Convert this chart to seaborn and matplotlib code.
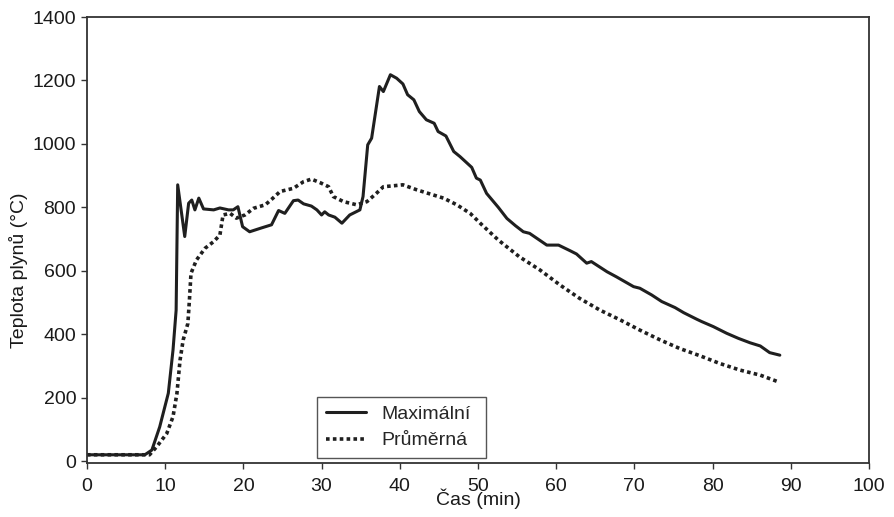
import matplotlib
matplotlib.use("Agg")
import matplotlib.pyplot as plt
import seaborn as sns
import pandas as pd

max_time = [0, 2, 4, 6, 7.4, 8.3, 9.3, 10.4, 11.0, 11.4, 11.6, 12.5, 13.0, 13.4, 13.8, 14.3, 14.9,
            16.2, 17.0, 18.1, 18.7, 19.3, 19.9, 20.8, 22.3, 23.6, 24.5, 25.3, 26.4, 27.0, 27.7,
            28.7, 29.4, 30.0, 30.4, 30.9, 31.7, 32.6, 33.6, 34.9, 35.3, 35.9, 36.4, 37.4, 37.9,
            38.8, 39.6, 40.4, 41.0, 41.8, 42.5, 43.4, 44.4, 44.9, 45.9, 46.9, 47.7, 49.2, 49.8,
            50.3, 51.1, 52.6, 53.7, 54.8, 55.8, 56.6, 58.8, 60.3, 61.8, 62.6, 63.9, 64.5, 66.5,
            67.7, 69.9, 70.7, 72.2, 73.5, 75.2, 76.3, 78.0, 78.6, 80.1, 81.8, 83.3, 84.8, 86.1,
            87.3, 88.6]
max_temp = [20, 20, 20, 20, 20, 35, 108, 214, 350, 476, 871, 708, 813, 823, 792, 829, 795,
            792, 798, 792, 792, 802, 739, 723, 735, 745, 790, 781, 821, 823, 811,
            804, 792, 776, 786, 776, 769, 750, 776, 792, 834, 997, 1018, 1181, 1165,
            1218, 1207, 1189, 1155, 1139, 1102, 1076, 1065, 1039, 1025, 976, 960, 926, 892,
            886, 844, 800, 765, 742, 723, 718, 681, 681, 663, 653, 624, 629, 597,
            581, 550, 545, 524, 503, 484, 468, 447, 440, 424, 403, 387, 373, 363,
            342, 334]

avg_time = [0, 2, 4, 6, 8.0, 8.9, 10.2, 11.0, 11.5, 11.9, 12.3, 12.9, 13.1, 13.3, 14.0, 15.1,
            16.2, 17.0, 17.4, 18.3, 19.1, 20.2, 21.3, 22.8, 23.6, 24.7, 26.4, 27.7, 28.7, 29.8,
            30.9, 31.5, 32.8, 34.5, 35.8, 37.0, 37.9, 39.2, 40.4, 42.2, 43.9, 45.6, 47.3, 49.0,
            50.5, 52.6, 55.3, 57.9, 60.5, 63.0, 65.6, 68.2, 70.7, 73.3, 75.8, 78.4, 80.9, 83.5,
            86.1, 88.4]
avg_temp = [20, 20, 20, 20, 20, 45, 87, 140, 213, 318, 382, 434, 508, 592, 634, 671,
            692, 713, 776, 781, 766, 776, 797, 808, 825, 850, 860, 881, 889, 878,
            865, 834, 818, 808, 818, 844, 865, 868, 871, 855, 842, 829, 808, 781,
            745, 697, 644, 603, 555, 513, 476, 445, 413, 382, 355, 332, 308, 287,
            271, 250]

labels = ["Maximální", "Průměrná"]
x_ticks = list(range(0, 101, 10))
y_ticks = list(range(0, 1401, 200))

sns.set_style("ticks")
plt.rcParams['font.family'] = ['Liberation Sans', 'DejaVu Sans']
plt.rcParams['font.size'] = 14

fig = plt.figure(figsize=(8.94, 5.17), dpi=100)
ax = fig.add_axes([0.0973, 0.1044, 0.8747, 0.8627])

df_max = pd.DataFrame({"t": max_time, "T": max_temp})
df_avg = pd.DataFrame({"t": avg_time, "T": avg_temp})

ink = "#1f1f1f"
sns.lineplot(data=df_max, x="t", y="T", ax=ax, color=ink, linewidth=2.2,
             label=labels[0], estimator=None, sort=False)
sns.lineplot(data=df_avg, x="t", y="T", ax=ax, color=ink, linewidth=2.6,
             linestyle=(0, (1.0, 0.9)), label=labels[1], estimator=None, sort=False)

ax.set_xlim(0, 100)
ax.set_ylim(-6, 1400)
ax.set_xticks(x_ticks)
ax.set_yticks(y_ticks)
for s in ax.spines.values():
    s.set_visible(True)
    s.set_color("#333333")
    s.set_linewidth(1.3)
ax.tick_params(axis="both", direction="out", length=4.2, width=1, colors="#333333",
               labelcolor="#1a1a1a", labelsize=14)
ax.tick_params(axis="x", pad=6.5)
ax.tick_params(axis="y", pad=3.6)

ax.set_xlabel("Čas (min)", fontsize=14, color="#1a1a1a")
ax.set_ylabel("Teplota plynů (°C)", fontsize=14, color="#1a1a1a")
ax.xaxis.set_label_coords(0.5, -0.058)
ax.yaxis.set_label_coords(-0.0754, 0.433)

leg = ax.legend(loc="lower left", bbox_to_anchor=(0.294, 0.011, 0.216, 0.141),
                mode="expand", fancybox=False,
                edgecolor="#555555", framealpha=1, fontsize=14, handlelength=2.1,
                handletextpad=0.75, borderpad=0.45, labelspacing=0.45, borderaxespad=0)
leg.get_frame().set_linewidth(1.0)

fig.savefig("out.png", dpi=100)
